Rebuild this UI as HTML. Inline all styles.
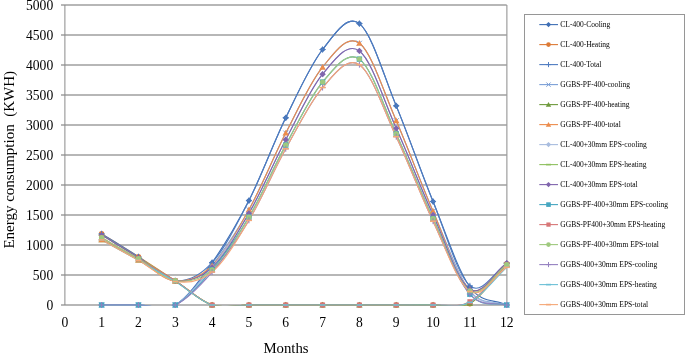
<!DOCTYPE html>
<html><head><meta charset="utf-8"><style>
html,body{margin:0;padding:0;background:#fff;width:685px;height:354px;overflow:hidden}
svg{display:block;will-change:transform}
</style></head><body>
<svg width="685" height="354" viewBox="0 0 685 354">
<g stroke="#707070" stroke-width="1.1"><line x1="61" y1="305.00" x2="506.70" y2="305.00"/><line x1="61" y1="275.00" x2="506.70" y2="275.00"/><line x1="61" y1="245.00" x2="506.70" y2="245.00"/><line x1="61" y1="215.00" x2="506.70" y2="215.00"/><line x1="61" y1="185.00" x2="506.70" y2="185.00"/><line x1="61" y1="155.00" x2="506.70" y2="155.00"/><line x1="61" y1="125.00" x2="506.70" y2="125.00"/><line x1="61" y1="95.00" x2="506.70" y2="95.00"/><line x1="61" y1="65.00" x2="506.70" y2="65.00"/><line x1="61" y1="35.00" x2="506.70" y2="35.00"/><line x1="61" y1="5.00" x2="506.70" y2="5.00"/></g>
<g stroke="#8a8a8a" stroke-width="1.0"><line x1="64.90" y1="5.00" x2="64.90" y2="305.00"/><line x1="506.90" y1="5.00" x2="506.90" y2="305.00"/></g>
<g font-family="Liberation Serif" font-size="13.6" fill="#000" text-anchor="end"><text transform="translate(53.20,309.50) scale(1,1.0)">0</text><text transform="translate(53.20,279.50) scale(1,1.0)">500</text><text transform="translate(53.20,249.50) scale(1,1.0)">1000</text><text transform="translate(53.20,219.50) scale(1,1.0)">1500</text><text transform="translate(53.20,189.50) scale(1,1.0)">2000</text><text transform="translate(53.20,159.50) scale(1,1.0)">2500</text><text transform="translate(53.20,129.50) scale(1,1.0)">3000</text><text transform="translate(53.20,99.50) scale(1,1.0)">3500</text><text transform="translate(53.20,69.50) scale(1,1.0)">4000</text><text transform="translate(53.20,39.50) scale(1,1.0)">4500</text><text transform="translate(53.20,9.50) scale(1,1.0)">5000</text></g>
<g font-family="Liberation Serif" font-size="13.6" fill="#000" text-anchor="middle"><text transform="translate(64.80,327.00) scale(1,1.0)">0</text><text transform="translate(101.62,327.00) scale(1,1.0)">1</text><text transform="translate(138.45,327.00) scale(1,1.0)">2</text><text transform="translate(175.28,327.00) scale(1,1.0)">3</text><text transform="translate(212.10,327.00) scale(1,1.0)">4</text><text transform="translate(248.93,327.00) scale(1,1.0)">5</text><text transform="translate(285.75,327.00) scale(1,1.0)">6</text><text transform="translate(322.58,327.00) scale(1,1.0)">7</text><text transform="translate(359.40,327.00) scale(1,1.0)">8</text><text transform="translate(396.23,327.00) scale(1,1.0)">9</text><text transform="translate(433.05,327.00) scale(1,1.0)">10</text><text transform="translate(469.88,327.00) scale(1,1.0)">11</text><text transform="translate(506.70,327.00) scale(1,1.0)">12</text></g>
<text x="286" y="353" font-family="Liberation Serif" font-size="14.8" fill="#000" text-anchor="middle">Months</text>
<text transform="translate(14.4,159.8) rotate(-90)" font-family="Liberation Serif" font-size="15.0" fill="#000" text-anchor="middle">Energy consumption&#160; (KWH)</text>
<defs><clipPath id="pc"><rect x="0" y="0" width="507.70" height="305.50"/></clipPath></defs>
<g clip-path="url(#pc)">
<path d="M101.62,305.00 C113.90,305.00 126.17,305.00 138.45,305.00 C150.72,305.00 163.00,312.06 175.28,305.00 C187.55,297.94 199.83,280.04 212.10,262.64 C224.38,245.24 236.65,224.74 248.93,200.60 C261.20,176.46 273.48,142.98 285.75,117.80 C298.02,92.62 310.30,65.22 322.58,49.52 C334.85,33.82 347.13,14.21 359.40,23.60 C371.68,32.99 383.95,76.21 396.23,105.86 C408.50,135.51 420.77,171.31 433.05,201.50 C445.33,231.69 457.60,269.75 469.88,287.00 C481.76,303.70 494.43,299.00 506.70,305.00" fill="none" stroke="#3f6fb5" stroke-width="1.15"/>
<path d="M101.62,233.72 C113.90,241.38 126.17,248.87 138.45,256.70 C150.72,264.53 163.00,272.65 175.28,280.70 C187.55,288.75 199.83,300.95 212.10,305.00 C224.38,309.05 236.65,305.00 248.93,305.00 C261.20,305.00 273.48,305.00 285.75,305.00 C298.02,305.00 310.30,305.00 322.58,305.00 C334.85,305.00 347.13,305.00 359.40,305.00 C371.68,305.00 383.95,305.00 396.23,305.00 C408.50,305.00 420.77,305.20 433.05,305.00 C445.33,304.80 457.60,310.70 469.88,303.80 C482.15,296.90 494.43,277.00 506.70,263.60" fill="none" stroke="#dd7a35" stroke-width="1.15"/>
<path d="M101.62,233.72 C113.90,241.38 126.17,248.87 138.45,256.70 C150.72,264.53 163.00,279.71 175.28,280.70 C187.55,281.69 199.83,275.99 212.10,262.64 C224.38,249.29 236.65,224.74 248.93,200.60 C261.20,176.46 273.48,142.98 285.75,117.80 C298.02,92.62 310.30,65.22 322.58,49.52 C334.85,33.82 347.13,14.21 359.40,23.60 C371.68,32.99 383.95,76.21 396.23,105.86 C408.50,135.51 420.77,171.51 433.05,201.50 C445.33,231.49 457.60,275.45 469.88,285.80 C482.15,296.15 494.43,271.00 506.70,263.60" fill="none" stroke="#4f7cc0" stroke-width="1.15"/>
<path d="M101.62,305.00 C113.90,305.00 126.17,305.00 138.45,305.00 C150.72,305.00 163.00,311.56 175.28,305.00 C187.55,298.44 199.83,281.52 212.10,265.64 C224.38,249.76 236.65,231.82 248.93,209.72 C261.20,187.62 273.48,156.81 285.75,133.04 C298.02,109.27 310.30,82.06 322.58,67.10 C334.85,52.14 347.13,34.34 359.40,43.28 C371.68,52.22 383.95,92.75 396.23,120.74 C408.50,148.73 420.77,182.86 433.05,211.22 C445.33,239.58 457.60,275.27 469.88,290.90 C482.05,306.41 494.43,300.30 506.70,305.00" fill="none" stroke="#7b9fd6" stroke-width="1.15"/>
<path d="M101.62,239.60 C113.90,246.36 126.17,252.98 138.45,259.88 C150.72,266.78 163.00,273.48 175.28,281.00 C187.55,288.52 199.83,301.00 212.10,305.00 C224.38,309.00 236.65,305.00 248.93,305.00 C261.20,305.00 273.48,305.00 285.75,305.00 C298.02,305.00 310.30,305.00 322.58,305.00 C334.85,305.00 347.13,305.00 359.40,305.00 C371.68,305.00 383.95,305.00 396.23,305.00 C408.50,305.00 420.77,305.30 433.05,305.00 C445.33,304.70 457.60,310.00 469.88,303.20 C482.15,296.40 494.43,277.20 506.70,264.20" fill="none" stroke="#6f9a3e" stroke-width="1.15"/>
<path d="M101.62,239.60 C113.90,246.36 126.17,252.98 138.45,259.88 C150.72,266.78 163.00,280.04 175.28,281.00 C187.55,281.96 199.83,277.52 212.10,265.64 C224.38,253.76 236.65,231.82 248.93,209.72 C261.20,187.62 273.48,156.81 285.75,133.04 C298.02,109.27 310.30,82.06 322.58,67.10 C334.85,52.14 347.13,34.34 359.40,43.28 C371.68,52.22 383.95,92.75 396.23,120.74 C408.50,148.73 420.77,183.16 433.05,211.22 C445.33,239.28 457.60,280.27 469.88,289.10 C482.15,297.93 494.43,272.50 506.70,264.20" fill="none" stroke="#ec8c4c" stroke-width="1.15"/>
<path d="M101.62,305.00 C113.90,305.00 126.17,305.00 138.45,305.00 C150.72,305.00 163.00,311.26 175.28,305.00 C187.55,298.74 199.83,282.72 212.10,267.44 C224.38,252.16 236.65,234.61 248.93,213.32 C261.20,192.03 273.48,162.89 285.75,139.70 C298.02,116.51 310.30,88.97 322.58,74.18 C334.85,59.39 347.13,41.93 359.40,50.96 C371.68,59.99 383.95,101.04 396.23,128.36 C408.50,155.68 420.77,187.69 433.05,214.88 C445.33,242.07 457.60,276.48 469.88,291.50 C482.15,306.52 494.43,300.50 506.70,305.00" fill="none" stroke="#a9bddf" stroke-width="1.15"/>
<path d="M101.62,235.10 C113.90,242.60 126.17,249.95 138.45,257.60 C150.72,265.25 163.00,273.10 175.28,281.00 C187.55,288.90 199.83,301.00 212.10,305.00 C224.38,309.00 236.65,305.00 248.93,305.00 C261.20,305.00 273.48,305.00 285.75,305.00 C298.02,305.00 310.30,305.00 322.58,305.00 C334.85,305.00 347.13,305.00 359.40,305.00 C371.68,305.00 383.95,305.00 396.23,305.00 C408.50,305.00 420.77,305.35 433.05,305.00 C445.33,304.65 457.60,309.90 469.88,302.90 C482.15,295.90 494.43,276.30 506.70,263.00" fill="none" stroke="#8fc05f" stroke-width="1.15"/>
<path d="M101.62,235.10 C113.90,242.60 126.17,249.95 138.45,257.60 C150.72,265.25 163.00,279.36 175.28,281.00 C187.55,282.64 199.83,278.72 212.10,267.44 C224.38,256.16 236.65,234.61 248.93,213.32 C261.20,192.03 273.48,162.89 285.75,139.70 C298.02,116.51 310.30,88.97 322.58,74.18 C334.85,59.39 347.13,41.93 359.40,50.96 C371.68,59.99 383.95,101.04 396.23,128.36 C408.50,155.68 420.77,188.04 433.05,214.88 C445.33,241.72 457.60,281.38 469.88,289.40 C482.15,297.42 494.43,271.80 506.70,263.00" fill="none" stroke="#8065ad" stroke-width="1.15"/>
<path d="M101.62,305.00 C113.90,305.00 126.17,305.00 138.45,305.00 C150.72,305.00 163.00,310.86 175.28,305.00 C187.55,299.14 199.83,284.49 212.10,269.84 C224.38,255.19 236.65,237.89 248.93,217.10 C261.20,196.31 273.48,167.60 285.75,145.10 C298.02,122.60 310.30,96.43 322.58,82.10 C334.85,67.77 347.13,50.48 359.40,59.12 C371.68,67.76 383.95,107.36 396.23,133.94 C408.50,160.52 420.77,191.89 433.05,218.60 C445.33,245.31 457.60,279.80 469.88,294.20 C482.15,308.60 494.43,301.40 506.70,305.00" fill="none" stroke="#45a6c0" stroke-width="1.15"/>
<path d="M101.62,237.80 C113.90,244.80 126.17,251.65 138.45,258.80 C150.72,265.95 163.00,273.00 175.28,280.70 C187.55,288.40 199.83,300.95 212.10,305.00 C224.38,309.05 236.65,305.00 248.93,305.00 C261.20,305.00 273.48,305.00 285.75,305.00 C298.02,305.00 310.30,305.00 322.58,305.00 C334.85,305.00 347.13,305.00 359.40,305.00 C371.68,305.00 383.95,305.00 396.23,305.00 C408.50,305.00 420.77,305.55 433.05,305.00 C445.33,304.45 457.60,308.42 469.88,301.70 C482.15,294.98 494.43,277.02 506.70,264.68" fill="none" stroke="#d77677" stroke-width="1.15"/>
<path d="M101.62,237.80 C113.90,244.80 126.17,251.65 138.45,258.80 C150.72,265.95 163.00,278.86 175.28,280.70 C187.55,282.54 199.83,280.44 212.10,269.84 C224.38,259.24 236.65,237.89 248.93,217.10 C261.20,196.31 273.48,167.60 285.75,145.10 C298.02,122.60 310.30,96.43 322.58,82.10 C334.85,67.77 347.13,50.48 359.40,59.12 C371.68,67.76 383.95,107.36 396.23,133.94 C408.50,160.52 420.77,192.44 433.05,218.60 C445.33,244.76 457.60,283.22 469.88,290.90 C482.15,298.58 494.43,273.42 506.70,264.68" fill="none" stroke="#9fc97e" stroke-width="1.15"/>
<path d="M101.62,305.00 C113.90,305.00 126.17,305.00 138.45,305.00 C150.72,305.00 163.00,310.49 175.28,305.00 C187.55,299.51 199.83,286.17 212.10,272.06 C224.38,257.95 236.65,240.88 248.93,220.34 C261.20,199.80 273.48,170.95 285.75,148.82 C298.02,126.69 310.30,101.58 322.58,87.56 C334.85,73.54 347.13,56.51 359.40,64.70 C371.68,72.89 383.95,110.62 396.23,136.70 C408.50,162.78 420.77,194.93 433.05,221.18 C445.33,247.43 457.60,280.23 469.88,294.20 C482.15,308.17 494.43,301.40 506.70,305.00" fill="none" stroke="#9581c0" stroke-width="1.15"/>
<path d="M101.62,239.90 C113.90,246.70 126.17,253.37 138.45,260.30 C150.72,267.23 163.00,274.03 175.28,281.48 C187.55,288.93 199.83,301.08 212.10,305.00 C224.38,308.92 236.65,305.00 248.93,305.00 C261.20,305.00 273.48,305.00 285.75,305.00 C298.02,305.00 310.30,305.00 322.58,305.00 C334.85,305.00 347.13,305.00 359.40,305.00 C371.68,305.00 383.95,305.00 396.23,305.00 C408.50,305.00 420.77,305.45 433.05,305.00 C445.33,304.55 457.60,308.59 469.88,302.30 C482.15,296.01 494.43,278.94 506.70,267.26" fill="none" stroke="#6cc0d6" stroke-width="1.15"/>
<path d="M101.62,239.90 C113.90,246.70 126.17,253.37 138.45,260.30 C150.72,267.23 163.00,279.52 175.28,281.48 C187.55,283.44 199.83,282.25 212.10,272.06 C224.38,261.87 236.65,240.88 248.93,220.34 C261.20,199.80 273.48,170.95 285.75,148.82 C298.02,126.69 310.30,101.58 322.58,87.56 C334.85,73.54 347.13,56.51 359.40,64.70 C371.68,72.89 383.95,110.62 396.23,136.70 C408.50,162.78 420.77,195.38 433.05,221.18 C445.33,246.98 457.60,283.82 469.88,291.50 C482.15,299.18 494.43,275.34 506.70,267.26" fill="none" stroke="#f5a878" stroke-width="1.15"/>
</g>
<path d="M101.62,301.90l3.10,3.10l-3.10,3.10l-3.10,-3.10z" fill="#3f6fb5"/><path d="M138.45,301.90l3.10,3.10l-3.10,3.10l-3.10,-3.10z" fill="#3f6fb5"/><path d="M175.28,301.90l3.10,3.10l-3.10,3.10l-3.10,-3.10z" fill="#3f6fb5"/><path d="M212.10,259.54l3.10,3.10l-3.10,3.10l-3.10,-3.10z" fill="#3f6fb5"/><path d="M248.93,197.50l3.10,3.10l-3.10,3.10l-3.10,-3.10z" fill="#3f6fb5"/><path d="M285.75,114.70l3.10,3.10l-3.10,3.10l-3.10,-3.10z" fill="#3f6fb5"/><path d="M322.58,46.42l3.10,3.10l-3.10,3.10l-3.10,-3.10z" fill="#3f6fb5"/><path d="M359.40,20.50l3.10,3.10l-3.10,3.10l-3.10,-3.10z" fill="#3f6fb5"/><path d="M396.23,102.76l3.10,3.10l-3.10,3.10l-3.10,-3.10z" fill="#3f6fb5"/><path d="M433.05,198.40l3.10,3.10l-3.10,3.10l-3.10,-3.10z" fill="#3f6fb5"/><path d="M469.88,283.90l3.10,3.10l-3.10,3.10l-3.10,-3.10z" fill="#3f6fb5"/><path d="M506.70,301.90l3.10,3.10l-3.10,3.10l-3.10,-3.10z" fill="#3f6fb5"/>
<circle cx="101.62" cy="233.72" r="2.70" fill="#dd7a35"/><circle cx="138.45" cy="256.70" r="2.70" fill="#dd7a35"/><circle cx="175.28" cy="280.70" r="2.70" fill="#dd7a35"/><circle cx="212.10" cy="305.00" r="2.70" fill="#dd7a35"/><circle cx="248.93" cy="305.00" r="2.70" fill="#dd7a35"/><circle cx="285.75" cy="305.00" r="2.70" fill="#dd7a35"/><circle cx="322.58" cy="305.00" r="2.70" fill="#dd7a35"/><circle cx="359.40" cy="305.00" r="2.70" fill="#dd7a35"/><circle cx="396.23" cy="305.00" r="2.70" fill="#dd7a35"/><circle cx="433.05" cy="305.00" r="2.70" fill="#dd7a35"/><circle cx="469.88" cy="303.80" r="2.70" fill="#dd7a35"/><circle cx="506.70" cy="263.60" r="2.70" fill="#dd7a35"/>
<path d="M98.62,233.72h6.00M101.62,230.72v6.00" stroke="#4f7cc0" stroke-width="1"/><path d="M135.45,256.70h6.00M138.45,253.70v6.00" stroke="#4f7cc0" stroke-width="1"/><path d="M172.28,280.70h6.00M175.28,277.70v6.00" stroke="#4f7cc0" stroke-width="1"/><path d="M209.10,262.64h6.00M212.10,259.64v6.00" stroke="#4f7cc0" stroke-width="1"/><path d="M245.93,200.60h6.00M248.93,197.60v6.00" stroke="#4f7cc0" stroke-width="1"/><path d="M282.75,117.80h6.00M285.75,114.80v6.00" stroke="#4f7cc0" stroke-width="1"/><path d="M319.58,49.52h6.00M322.58,46.52v6.00" stroke="#4f7cc0" stroke-width="1"/><path d="M356.40,23.60h6.00M359.40,20.60v6.00" stroke="#4f7cc0" stroke-width="1"/><path d="M393.23,105.86h6.00M396.23,102.86v6.00" stroke="#4f7cc0" stroke-width="1"/><path d="M430.05,201.50h6.00M433.05,198.50v6.00" stroke="#4f7cc0" stroke-width="1"/><path d="M466.88,285.80h6.00M469.88,282.80v6.00" stroke="#4f7cc0" stroke-width="1"/><path d="M503.70,263.60h6.00M506.70,260.60v6.00" stroke="#4f7cc0" stroke-width="1"/>
<path d="M99.12,302.50l5.00,5.00M99.12,307.50l5.00,-5.00" stroke="#7b9fd6" stroke-width="1"/><path d="M135.95,302.50l5.00,5.00M135.95,307.50l5.00,-5.00" stroke="#7b9fd6" stroke-width="1"/><path d="M172.78,302.50l5.00,5.00M172.78,307.50l5.00,-5.00" stroke="#7b9fd6" stroke-width="1"/><path d="M209.60,263.14l5.00,5.00M209.60,268.14l5.00,-5.00" stroke="#7b9fd6" stroke-width="1"/><path d="M246.43,207.22l5.00,5.00M246.43,212.22l5.00,-5.00" stroke="#7b9fd6" stroke-width="1"/><path d="M283.25,130.54l5.00,5.00M283.25,135.54l5.00,-5.00" stroke="#7b9fd6" stroke-width="1"/><path d="M320.08,64.60l5.00,5.00M320.08,69.60l5.00,-5.00" stroke="#7b9fd6" stroke-width="1"/><path d="M356.90,40.78l5.00,5.00M356.90,45.78l5.00,-5.00" stroke="#7b9fd6" stroke-width="1"/><path d="M393.73,118.24l5.00,5.00M393.73,123.24l5.00,-5.00" stroke="#7b9fd6" stroke-width="1"/><path d="M430.55,208.72l5.00,5.00M430.55,213.72l5.00,-5.00" stroke="#7b9fd6" stroke-width="1"/><path d="M467.38,288.40l5.00,5.00M467.38,293.40l5.00,-5.00" stroke="#7b9fd6" stroke-width="1"/><path d="M504.20,302.50l5.00,5.00M504.20,307.50l5.00,-5.00" stroke="#7b9fd6" stroke-width="1"/>
<path d="M101.62,236.40L104.83,242.16L98.42,242.16z" fill="#6f9a3e"/><path d="M138.45,256.68L141.65,262.44L135.25,262.44z" fill="#6f9a3e"/><path d="M175.28,277.80L178.47,283.56L172.08,283.56z" fill="#6f9a3e"/><path d="M212.10,301.80L215.30,307.56L208.90,307.56z" fill="#6f9a3e"/><path d="M248.93,301.80L252.12,307.56L245.73,307.56z" fill="#6f9a3e"/><path d="M285.75,301.80L288.95,307.56L282.55,307.56z" fill="#6f9a3e"/><path d="M322.58,301.80L325.78,307.56L319.38,307.56z" fill="#6f9a3e"/><path d="M359.40,301.80L362.60,307.56L356.20,307.56z" fill="#6f9a3e"/><path d="M396.23,301.80L399.43,307.56L393.03,307.56z" fill="#6f9a3e"/><path d="M433.05,301.80L436.25,307.56L429.85,307.56z" fill="#6f9a3e"/><path d="M469.88,300.00L473.08,305.76L466.68,305.76z" fill="#6f9a3e"/><path d="M506.70,261.00L509.90,266.76L503.50,266.76z" fill="#6f9a3e"/>
<path d="M101.62,236.40L104.83,242.16L98.42,242.16z" fill="#ec8c4c"/><path d="M138.45,256.68L141.65,262.44L135.25,262.44z" fill="#ec8c4c"/><path d="M175.28,277.80L178.47,283.56L172.08,283.56z" fill="#ec8c4c"/><path d="M212.10,262.44L215.30,268.20L208.90,268.20z" fill="#ec8c4c"/><path d="M248.93,206.52L252.12,212.28L245.73,212.28z" fill="#ec8c4c"/><path d="M285.75,129.84L288.95,135.60L282.55,135.60z" fill="#ec8c4c"/><path d="M322.58,63.90L325.78,69.66L319.38,69.66z" fill="#ec8c4c"/><path d="M359.40,40.08L362.60,45.84L356.20,45.84z" fill="#ec8c4c"/><path d="M396.23,117.54L399.43,123.30L393.03,123.30z" fill="#ec8c4c"/><path d="M433.05,208.02L436.25,213.78L429.85,213.78z" fill="#ec8c4c"/><path d="M469.88,285.90L473.08,291.66L466.68,291.66z" fill="#ec8c4c"/><path d="M506.70,261.00L509.90,266.76L503.50,266.76z" fill="#ec8c4c"/>
<path d="M101.62,301.90l3.10,3.10l-3.10,3.10l-3.10,-3.10z" fill="#a9bddf"/><path d="M138.45,301.90l3.10,3.10l-3.10,3.10l-3.10,-3.10z" fill="#a9bddf"/><path d="M175.28,301.90l3.10,3.10l-3.10,3.10l-3.10,-3.10z" fill="#a9bddf"/><path d="M212.10,264.34l3.10,3.10l-3.10,3.10l-3.10,-3.10z" fill="#a9bddf"/><path d="M248.93,210.22l3.10,3.10l-3.10,3.10l-3.10,-3.10z" fill="#a9bddf"/><path d="M285.75,136.60l3.10,3.10l-3.10,3.10l-3.10,-3.10z" fill="#a9bddf"/><path d="M322.58,71.08l3.10,3.10l-3.10,3.10l-3.10,-3.10z" fill="#a9bddf"/><path d="M359.40,47.86l3.10,3.10l-3.10,3.10l-3.10,-3.10z" fill="#a9bddf"/><path d="M396.23,125.26l3.10,3.10l-3.10,3.10l-3.10,-3.10z" fill="#a9bddf"/><path d="M433.05,211.78l3.10,3.10l-3.10,3.10l-3.10,-3.10z" fill="#a9bddf"/><path d="M469.88,288.40l3.10,3.10l-3.10,3.10l-3.10,-3.10z" fill="#a9bddf"/><path d="M506.70,301.90l3.10,3.10l-3.10,3.10l-3.10,-3.10z" fill="#a9bddf"/>
<path d="M98.62,235.10h6.00" stroke="#8fc05f" stroke-width="1.6"/><path d="M135.45,257.60h6.00" stroke="#8fc05f" stroke-width="1.6"/><path d="M172.28,281.00h6.00" stroke="#8fc05f" stroke-width="1.6"/><path d="M209.10,305.00h6.00" stroke="#8fc05f" stroke-width="1.6"/><path d="M245.93,305.00h6.00" stroke="#8fc05f" stroke-width="1.6"/><path d="M282.75,305.00h6.00" stroke="#8fc05f" stroke-width="1.6"/><path d="M319.58,305.00h6.00" stroke="#8fc05f" stroke-width="1.6"/><path d="M356.40,305.00h6.00" stroke="#8fc05f" stroke-width="1.6"/><path d="M393.23,305.00h6.00" stroke="#8fc05f" stroke-width="1.6"/><path d="M430.05,305.00h6.00" stroke="#8fc05f" stroke-width="1.6"/><path d="M466.88,302.90h6.00" stroke="#8fc05f" stroke-width="1.6"/><path d="M503.70,263.00h6.00" stroke="#8fc05f" stroke-width="1.6"/>
<path d="M101.62,232.00l3.10,3.10l-3.10,3.10l-3.10,-3.10z" fill="#8065ad"/><path d="M138.45,254.50l3.10,3.10l-3.10,3.10l-3.10,-3.10z" fill="#8065ad"/><path d="M175.28,277.90l3.10,3.10l-3.10,3.10l-3.10,-3.10z" fill="#8065ad"/><path d="M212.10,264.34l3.10,3.10l-3.10,3.10l-3.10,-3.10z" fill="#8065ad"/><path d="M248.93,210.22l3.10,3.10l-3.10,3.10l-3.10,-3.10z" fill="#8065ad"/><path d="M285.75,136.60l3.10,3.10l-3.10,3.10l-3.10,-3.10z" fill="#8065ad"/><path d="M322.58,71.08l3.10,3.10l-3.10,3.10l-3.10,-3.10z" fill="#8065ad"/><path d="M359.40,47.86l3.10,3.10l-3.10,3.10l-3.10,-3.10z" fill="#8065ad"/><path d="M396.23,125.26l3.10,3.10l-3.10,3.10l-3.10,-3.10z" fill="#8065ad"/><path d="M433.05,211.78l3.10,3.10l-3.10,3.10l-3.10,-3.10z" fill="#8065ad"/><path d="M469.88,286.30l3.10,3.10l-3.10,3.10l-3.10,-3.10z" fill="#8065ad"/><path d="M506.70,259.90l3.10,3.10l-3.10,3.10l-3.10,-3.10z" fill="#8065ad"/>
<rect x="98.92" y="302.30" width="5.40" height="5.40" fill="#45a6c0"/><rect x="135.75" y="302.30" width="5.40" height="5.40" fill="#45a6c0"/><rect x="172.58" y="302.30" width="5.40" height="5.40" fill="#45a6c0"/><rect x="209.40" y="267.14" width="5.40" height="5.40" fill="#45a6c0"/><rect x="246.23" y="214.40" width="5.40" height="5.40" fill="#45a6c0"/><rect x="283.05" y="142.40" width="5.40" height="5.40" fill="#45a6c0"/><rect x="319.88" y="79.40" width="5.40" height="5.40" fill="#45a6c0"/><rect x="356.70" y="56.42" width="5.40" height="5.40" fill="#45a6c0"/><rect x="393.53" y="131.24" width="5.40" height="5.40" fill="#45a6c0"/><rect x="430.35" y="215.90" width="5.40" height="5.40" fill="#45a6c0"/><rect x="467.18" y="291.50" width="5.40" height="5.40" fill="#45a6c0"/><rect x="504.00" y="302.30" width="5.40" height="5.40" fill="#45a6c0"/>
<rect x="99.12" y="235.30" width="5.00" height="5.00" fill="#d77677"/><rect x="135.95" y="256.30" width="5.00" height="5.00" fill="#d77677"/><rect x="172.78" y="278.20" width="5.00" height="5.00" fill="#d77677"/><rect x="209.60" y="302.50" width="5.00" height="5.00" fill="#d77677"/><rect x="246.43" y="302.50" width="5.00" height="5.00" fill="#d77677"/><rect x="283.25" y="302.50" width="5.00" height="5.00" fill="#d77677"/><rect x="320.08" y="302.50" width="5.00" height="5.00" fill="#d77677"/><rect x="356.90" y="302.50" width="5.00" height="5.00" fill="#d77677"/><rect x="393.73" y="302.50" width="5.00" height="5.00" fill="#d77677"/><rect x="430.55" y="302.50" width="5.00" height="5.00" fill="#d77677"/><rect x="467.38" y="299.20" width="5.00" height="5.00" fill="#d77677"/><rect x="504.20" y="262.18" width="5.00" height="5.00" fill="#d77677"/>
<circle cx="101.62" cy="237.80" r="2.70" fill="#9fc97e"/><circle cx="138.45" cy="258.80" r="2.70" fill="#9fc97e"/><circle cx="175.28" cy="280.70" r="2.70" fill="#9fc97e"/><circle cx="212.10" cy="269.84" r="2.70" fill="#9fc97e"/><circle cx="248.93" cy="217.10" r="2.70" fill="#9fc97e"/><circle cx="285.75" cy="145.10" r="2.70" fill="#9fc97e"/><circle cx="322.58" cy="82.10" r="2.70" fill="#9fc97e"/><circle cx="359.40" cy="59.12" r="2.70" fill="#9fc97e"/><circle cx="396.23" cy="133.94" r="2.70" fill="#9fc97e"/><circle cx="433.05" cy="218.60" r="2.70" fill="#9fc97e"/><circle cx="469.88" cy="290.90" r="2.70" fill="#9fc97e"/><circle cx="506.70" cy="264.68" r="2.70" fill="#9fc97e"/>
<path d="M98.62,305.00h6.00M101.62,302.00v6.00" stroke="#9581c0" stroke-width="1"/><path d="M135.45,305.00h6.00M138.45,302.00v6.00" stroke="#9581c0" stroke-width="1"/><path d="M172.28,305.00h6.00M175.28,302.00v6.00" stroke="#9581c0" stroke-width="1"/><path d="M209.10,272.06h6.00M212.10,269.06v6.00" stroke="#9581c0" stroke-width="1"/><path d="M245.93,220.34h6.00M248.93,217.34v6.00" stroke="#9581c0" stroke-width="1"/><path d="M282.75,148.82h6.00M285.75,145.82v6.00" stroke="#9581c0" stroke-width="1"/><path d="M319.58,87.56h6.00M322.58,84.56v6.00" stroke="#9581c0" stroke-width="1"/><path d="M356.40,64.70h6.00M359.40,61.70v6.00" stroke="#9581c0" stroke-width="1"/><path d="M393.23,136.70h6.00M396.23,133.70v6.00" stroke="#9581c0" stroke-width="1"/><path d="M430.05,221.18h6.00M433.05,218.18v6.00" stroke="#9581c0" stroke-width="1"/><path d="M466.88,294.20h6.00M469.88,291.20v6.00" stroke="#9581c0" stroke-width="1"/><path d="M503.70,305.00h6.00M506.70,302.00v6.00" stroke="#9581c0" stroke-width="1"/>
<path d="M98.62,239.90h6.00" stroke="#6cc0d6" stroke-width="1.6"/><path d="M135.45,260.30h6.00" stroke="#6cc0d6" stroke-width="1.6"/><path d="M172.28,281.48h6.00" stroke="#6cc0d6" stroke-width="1.6"/><path d="M209.10,305.00h6.00" stroke="#6cc0d6" stroke-width="1.6"/><path d="M245.93,305.00h6.00" stroke="#6cc0d6" stroke-width="1.6"/><path d="M282.75,305.00h6.00" stroke="#6cc0d6" stroke-width="1.6"/><path d="M319.58,305.00h6.00" stroke="#6cc0d6" stroke-width="1.6"/><path d="M356.40,305.00h6.00" stroke="#6cc0d6" stroke-width="1.6"/><path d="M393.23,305.00h6.00" stroke="#6cc0d6" stroke-width="1.6"/><path d="M430.05,305.00h6.00" stroke="#6cc0d6" stroke-width="1.6"/><path d="M466.88,302.30h6.00" stroke="#6cc0d6" stroke-width="1.6"/><path d="M503.70,267.26h6.00" stroke="#6cc0d6" stroke-width="1.6"/>
<path d="M98.62,239.90h6.00" stroke="#f5a878" stroke-width="1.6"/><path d="M135.45,260.30h6.00" stroke="#f5a878" stroke-width="1.6"/><path d="M172.28,281.48h6.00" stroke="#f5a878" stroke-width="1.6"/><path d="M209.10,272.06h6.00" stroke="#f5a878" stroke-width="1.6"/><path d="M245.93,220.34h6.00" stroke="#f5a878" stroke-width="1.6"/><path d="M282.75,148.82h6.00" stroke="#f5a878" stroke-width="1.6"/><path d="M319.58,87.56h6.00" stroke="#f5a878" stroke-width="1.6"/><path d="M356.40,64.70h6.00" stroke="#f5a878" stroke-width="1.6"/><path d="M393.23,136.70h6.00" stroke="#f5a878" stroke-width="1.6"/><path d="M430.05,221.18h6.00" stroke="#f5a878" stroke-width="1.6"/><path d="M466.88,291.50h6.00" stroke="#f5a878" stroke-width="1.6"/><path d="M503.70,267.26h6.00" stroke="#f5a878" stroke-width="1.6"/>
<g><rect x="524.5" y="14.5" width="160" height="300" fill="#fff" stroke="#969696" stroke-width="1"/><line x1="539.30" y1="24.60" x2="558.00" y2="24.60" stroke="#3f6fb5" stroke-width="1.1"/><path d="M548.50,21.97l2.63,2.63l-2.63,2.63l-2.63,-2.63z" fill="#3f6fb5"/><line x1="539.30" y1="44.60" x2="558.00" y2="44.60" stroke="#dd7a35" stroke-width="1.1"/><circle cx="548.50" cy="44.60" r="2.29" fill="#dd7a35"/><line x1="539.30" y1="64.60" x2="558.00" y2="64.60" stroke="#4f7cc0" stroke-width="1.1"/><path d="M545.95,64.60h5.10M548.50,62.05v5.10" stroke="#4f7cc0" stroke-width="1"/><line x1="539.30" y1="84.60" x2="558.00" y2="84.60" stroke="#7b9fd6" stroke-width="1.1"/><path d="M546.38,82.47l4.25,4.25M546.38,86.72l4.25,-4.25" stroke="#7b9fd6" stroke-width="1"/><line x1="539.30" y1="104.60" x2="558.00" y2="104.60" stroke="#6f9a3e" stroke-width="1.1"/><path d="M548.50,101.88L551.22,106.78L545.78,106.78z" fill="#6f9a3e"/><line x1="539.30" y1="124.60" x2="558.00" y2="124.60" stroke="#ec8c4c" stroke-width="1.1"/><path d="M548.50,121.88L551.22,126.78L545.78,126.78z" fill="#ec8c4c"/><line x1="539.30" y1="144.60" x2="558.00" y2="144.60" stroke="#a9bddf" stroke-width="1.1"/><path d="M548.50,141.97l2.63,2.63l-2.63,2.63l-2.63,-2.63z" fill="#a9bddf"/><line x1="539.30" y1="164.60" x2="558.00" y2="164.60" stroke="#8fc05f" stroke-width="1.1"/><path d="M545.95,164.60h5.10" stroke="#8fc05f" stroke-width="1.6"/><line x1="539.30" y1="184.60" x2="558.00" y2="184.60" stroke="#8065ad" stroke-width="1.1"/><path d="M548.50,181.97l2.63,2.63l-2.63,2.63l-2.63,-2.63z" fill="#8065ad"/><line x1="539.30" y1="204.60" x2="558.00" y2="204.60" stroke="#45a6c0" stroke-width="1.1"/><rect x="546.21" y="202.31" width="4.59" height="4.59" fill="#45a6c0"/><line x1="539.30" y1="224.60" x2="558.00" y2="224.60" stroke="#d77677" stroke-width="1.1"/><rect x="546.38" y="222.47" width="4.25" height="4.25" fill="#d77677"/><line x1="539.30" y1="244.60" x2="558.00" y2="244.60" stroke="#9fc97e" stroke-width="1.1"/><circle cx="548.50" cy="244.60" r="2.29" fill="#9fc97e"/><line x1="539.30" y1="264.60" x2="558.00" y2="264.60" stroke="#9581c0" stroke-width="1.1"/><path d="M545.95,264.60h5.10M548.50,262.05v5.10" stroke="#9581c0" stroke-width="1"/><line x1="539.30" y1="284.60" x2="558.00" y2="284.60" stroke="#6cc0d6" stroke-width="1.1"/><path d="M545.95,284.60h5.10" stroke="#6cc0d6" stroke-width="1.6"/><line x1="539.30" y1="304.60" x2="558.00" y2="304.60" stroke="#f5a878" stroke-width="1.1"/><path d="M545.95,304.60h5.10" stroke="#f5a878" stroke-width="1.6"/></g>
<g font-family="Liberation Serif" font-size="7.5" fill="#000"><text x="560.30" y="27.20">CL-400-Cooling</text><text x="560.30" y="47.20">CL-400-Heating</text><text x="560.30" y="67.20">CL-400-Total</text><text x="560.30" y="87.20">GGBS-PF-400-cooling</text><text x="560.30" y="107.20">GGBS-PF-400-heating</text><text x="560.30" y="127.20">GGBS-PF-400-total</text><text x="560.30" y="147.20">CL-400+30mm EPS-cooling</text><text x="560.30" y="167.20">CL-400+30mm EPS-heating</text><text x="560.30" y="187.20">CL-400+30mm EPS-total</text><text x="560.30" y="207.20">GGBS-PF-400+30mm EPS-cooling</text><text x="560.30" y="227.20">GGBS-PF400+30mm EPS-heating</text><text x="560.30" y="247.20">GGBS-PF-400+30mm EPS-total</text><text x="560.30" y="267.20">GGBS-400+30mm EPS-cooling</text><text x="560.30" y="287.20">GGBS-400+30mm EPS-heating</text><text x="560.30" y="307.20">GGBS-400+30mm EPS-total</text></g>
</svg>
</body></html>
